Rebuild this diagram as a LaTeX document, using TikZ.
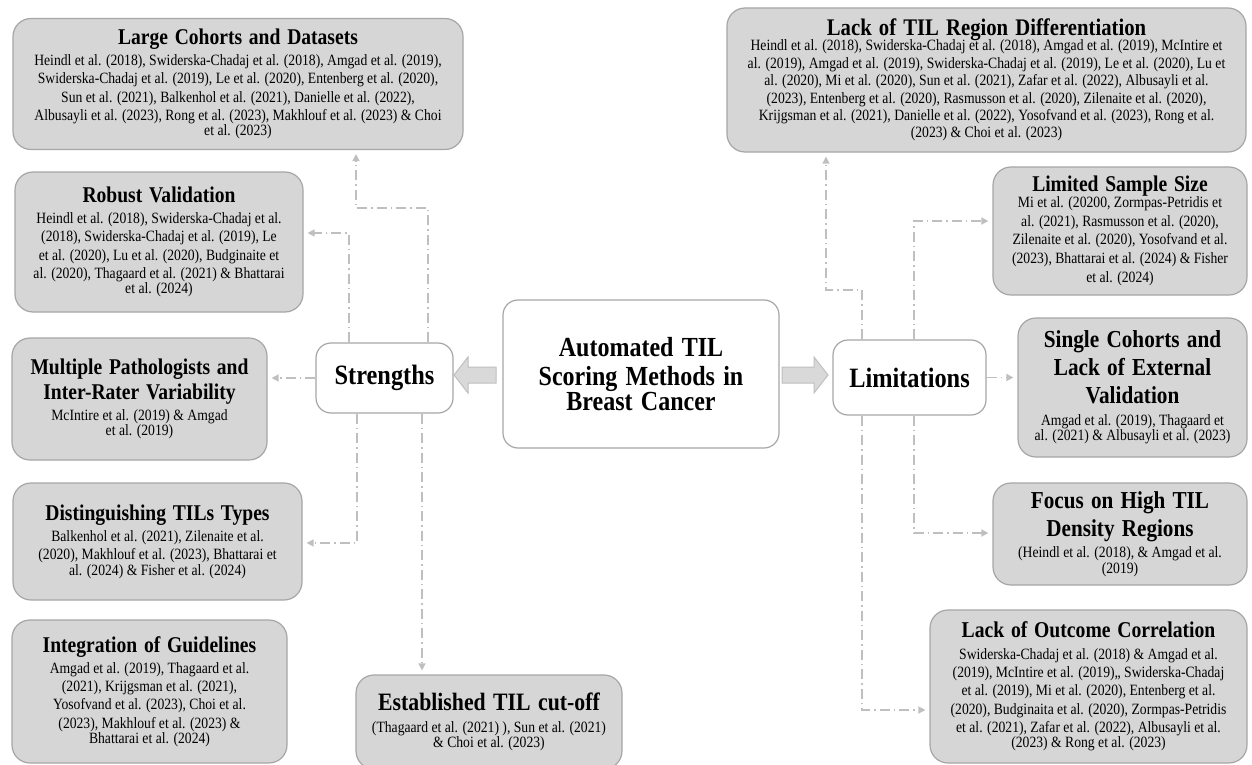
\documentclass[tikz,border=0pt]{standalone}
\usepackage{fontspec}
\setmainfont{Liberation Serif}[FakeStretch=0.87]
\usetikzlibrary{arrows.meta}
\definecolor{boxfill}{RGB}{214,214,214}
\definecolor{boxline}{RGB}{166,166,166}
\definecolor{connc}{RGB}{191,191,191}
\definecolor{arrowfill}{RGB}{217,217,217}
\definecolor{arrowline}{RGB}{191,191,191}
\setlength\parindent{0pt}
\setlength\parskip{0pt}
\newcommand\ttl[2]{\fontsize{#1}{#2}\selectfont\bfseries\spaceskip=0.3em\relax}
\newcommand\bdyf[1]{\fontsize{15.7}{#1}\selectfont\mdseries\spaceskip=0pt\relax}
\newcommand\bdy{\par\vspace{3pt}\bdyf{18.3}}
\begin{document}
\begin{tikzpicture}[x=1pt,y=-1pt,
  box/.style={draw=boxline, fill=boxfill, rounded corners=18pt, line width=1.2pt, align=flush center, inner sep=0pt},
  wbox/.style={draw=boxline, fill=white, rounded corners=15pt, line width=1.2pt, align=flush center, inner sep=0pt},
  conn/.style={draw=connc, line width=1.5pt, dash pattern=on 10pt off 4pt on 1.5pt off 4pt, -{Triangle[length=7pt,width=7pt]}, shorten >=4pt},
  barrow/.style={fill=arrowfill, draw=arrowline, line width=1pt}]
\useasboundingbox (0,0) rectangle (1252,765);

% ---- center ----
\node[wbox, minimum width=276pt, minimum height=148pt, text width=270pt] (C) at (641,374)
  {\ttl{27.6}{28.5}Automated TIL\\Scoring Methods in\\Breast Cancer};
\node[wbox, minimum width=137pt, minimum height=70pt, text width=130pt] (S) at (384.5,378)
  {\ttl{28}{30}Strengths};
\node[wbox, minimum width=153pt, minimum height=75pt, text width=146pt] (L) at (909.5,377.5)
  {\ttl{28}{30}Limitations};

% block arrows
\draw[barrow] (496,367) -- (468,367) -- (468,357) -- (454,375) -- (468,393) -- (468,383) -- (496,383) -- cycle;
\draw[barrow] (782,367) -- (814,367) -- (814,357) -- (828,375) -- (814,393) -- (814,383) -- (782,383) -- cycle;

% ---- left boxes ----
\node[box, minimum width=450pt, minimum height=131pt, text width=440pt] (LC) at (238,84)
  {\ttl{22.5}{25}Large Cohorts  and Datasets\bdy
   Heindl et al. (2018), Swiderska-Chadaj et al. (2018), Amgad et al. (2019),\\
   Swiderska-Chadaj et al.  (2019), Le et al. (2020), Entenberg et al. (2020),\\
   Sun et al.  (2021), Balkenhol et al. (2021), Danielle et al. (2022),\\
   Albusayli et al. (2023), Rong et al.  (2023), Makhlouf et al. (2023) \& Choi\\
   et al. (2023)};
\node[box, minimum width=288pt, minimum height=140pt, text width=280pt] (RV) at (159,242)
  {\ttl{22.5}{25}Robust  Validation\bdy
   Heindl et al. (2018), Swiderska-Chadaj et al.\\
   (2018), Swiderska-Chadaj et al.  (2019), Le\\
   et al. (2020), Lu et al. (2020), Budginaite et\\
   al. (2020), Thagaard et al. (2021) \& Bhattarai\\
   et al. (2024)};
\node[box, minimum width=255pt, minimum height=122pt, text width=248pt] (MP) at (139.5,399)
  {\ttl{22.5}{25}Multiple  Pathologists  and\\Inter-Rater  Variability\bdy
   McIntire et al. (2019)  \& Amgad\\
   et al. (2019)};
\node[box, minimum width=289pt, minimum height=117pt, text width=282pt] (DT) at (157.5,541.5)
  {\ttl{22.5}{25}Distinguishing  TILs Types\bdy
   Balkenhol et al. (2021), Zilenaite et al.\\
   (2020), Makhlouf et al. (2023), Bhattarai et\\
   al. (2024)  \& Fisher et al. (2024)};
\node[box, minimum width=275pt, minimum height=143pt, text width=268pt] (IG) at (149.5,691.5)
  {\ttl{22.5}{25}Integration  of Guidelines\bdy
   Amgad et al. (2019), Thagaard et al.\\
   (2021), Krijgsman  et al. (2021),\\
   Yosofvand et al. (2023), Choi et al.\\
   (2023), Makhlouf et al. (2023)  \&\\
   Bhattarai et al. (2024)};
\node[box, minimum width=266pt, minimum height=94pt, text width=260pt] (ET) at (489,722)
  {\ttl{25}{27}Established  TIL cut-off\bdy
   (Thagaard et al. (2021) ), Sun et al. (2021)\\
   \& Choi et al. (2023)};

% ---- right boxes ----
\node[box, minimum width=519pt, minimum height=144pt, text width=510pt] (LT) at (986.5,80)
  {\ttl{23.8}{26}Lack of TIL Region Differentiation\par\vspace{-2pt}\bdyf{17.4}
   Heindl et al. (2018), Swiderska-Chadaj et al. (2018), Amgad et al. (2019), McIntire et\\
   al. (2019), Amgad et al. (2019), Swiderska-Chadaj et al.  (2019), Le et al. (2020), Lu et\\
   al. (2020), Mi et al.  (2020), Sun et al.  (2021), Zafar et al. (2022), Albusayli et al.\\
   (2023), Entenberg et al. (2020), Rasmusson et al. (2020), Zilenaite et al.  (2020),\\
   Krijgsman  et al. (2021), Danielle et al. (2022), Yosofvand et al. (2023), Rong et al.\\
   (2023) \& Choi et al. (2023)\par\vspace{5pt}};
\node[box, minimum width=254pt, minimum height=128pt, text width=246pt] (LS) at (1120,231)
  {\ttl{22.5}{25}Limited Sample Size\par\vspace{-3pt}\bdyf{18.7}
   Mi et al.  (20200, Zormpas-Petridis et\\
   al. (2021), Rasmusson et al. (2020),\\
   Zilenaite et al.  (2020), Yosofvand et al.\\
   (2023), Bhattarai et al. (2024) \& Fisher\\
   et al. (2024)\par\vspace{6pt}};
\node[box, minimum width=229pt, minimum height=139pt, text width=222pt] (SC) at (1132.5,387.5)
  {\ttl{24.4}{28}Single Cohorts and\\Lack of External\\Validation\bdy
   Amgad et al. (2019), Thagaard et\\
   al. (2021) \& Albusayli et al. (2023)};
\node[box, minimum width=254pt, minimum height=102pt, text width=246pt] (FH) at (1120,534)
  {\ttl{24.3}{28}Focus on High TIL\\Density Regions\bdy
   (Heindl et al. (2018), \& Amgad et al.\\
   (2019)};
\node[box, minimum width=317pt, minimum height=153pt, text width=310pt] (LO) at (1088.5,686.5)
  {\ttl{22.6}{25}Lack of Outcome  Correlation\bdy
   Swiderska-Chadaj et al. (2018) \& Amgad et al.\\
   (2019), McIntire et al. (2019),, Swiderska-Chadaj\\
   et al.  (2019), Mi et al.  (2020), Entenberg et al.\\
   (2020), Budginaita et al.  (2020), Zormpas-Petridis\\
   et al. (2021), Zafar et al. (2022), Albusayli et al.\\
   (2023)  \& Rong et al.  (2023)};

% ---- connectors: strengths ----
\draw[conn] (S.north -| 428,0) -- (428,208) -- (356,208) -- (LC.south -| 356,0);
\draw[conn] (S.north -| 349,0) -- (349,233) -- (RV.east |- 0,233);
\draw[conn] (S.west) -- (MP.east |- S.west);
\draw[conn] (S.south -| 357,0) -- (357,543) -- (DT.east |- 0,543);
\draw[conn] (S.south -| 422,0) -- (ET.north -| 422,0);

% ---- connectors: limitations ----
\draw[conn] (L.north -| 862,0) -- (862,290) -- (826,290) -- (LT.south -| 826,0);
\draw[conn] (L.north -| 914,0) -- (914,221) -- (LS.west |- 0,221);
\draw[conn] (L.east) -- (SC.west |- L.east);
\draw[conn] (L.south -| 914,0) -- (914,533) -- (FH.west |- 0,533);
\draw[conn] (L.south -| 862,0) -- (862,710) -- (LO.west |- 0,710);
\end{tikzpicture}
\end{document}
